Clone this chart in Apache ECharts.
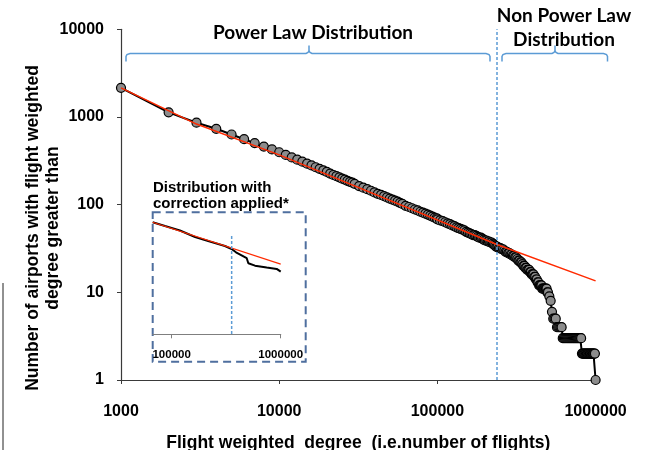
<!DOCTYPE html>
<html>
<head>
<meta charset="utf-8">
<script src="https://cdn.jsdelivr.net/npm/echarts/dist/echarts.min.js"></script>
<style>
  html, body { margin: 0; padding: 0; background: #fff; }
  #chart { width: 650px; height: 450px; }
</style>
</head>
<body>
<div id="chart"></div>
<script>
// Cumulative distribution: airports whose flight-weighted degree exceeds each threshold
const degree = [
  1000, 2000, 3000, 4000, 5000, 6000, 7000, 8000, 9000, 10000,
  11000, 12000, 13000, 14000, 15000, 16000, 17000, 18000, 19000, 20000,
  21000, 22000, 23000, 24000, 25000, 26000, 27000, 28000, 29000, 30000,
  32000, 34000, 36000, 38000, 40000, 42000, 44000, 46000, 48000, 50000,
  52000, 54000, 56000, 58000, 60000,
  63000, 66000, 69000, 72000, 75000, 78000, 81000, 84000, 87000, 90000,
  93000, 96000, 99000,
  100000, 104000, 108000, 112000, 116000, 120000, 124000, 128000, 132000, 136000,
  140000, 144000, 148000, 152000, 156000, 160000, 164000, 168000, 172000, 176000,
  180000, 184000, 188000, 192000, 196000, 200000, 204000, 208000, 212000, 216000,
  220000, 224000, 228000, 232000, 236000, 240000,
  245000, 250000, 255000, 260000, 265000, 270000, 275000, 280000, 285000, 290000,
  295000, 300000, 305000, 310000, 315000, 320000, 325000, 330000, 335000, 340000,
  345000, 350000, 355000, 360000, 365000, 370000, 375000, 380000, 385000, 390000,
  395000, 400000, 405000, 410000, 415000, 420000, 425000, 430000, 435000, 440000,
  445000, 450000, 455000, 460000, 465000, 470000, 475000, 480000, 485000, 490000,
  495000, 500000,
  510000, 520000, 530000, 540000, 550000, 560000, 570000, 580000, 590000, 600000,
  610000, 620000, 630000, 640000, 650000, 660000, 670000, 680000, 690000, 700000,
  710000, 720000, 730000, 740000, 750000, 760000, 770000, 780000, 790000, 800000,
  810000, 820000, 830000, 840000, 850000, 860000, 870000, 880000, 890000, 900000,
  910000, 920000, 930000, 940000, 950000, 960000, 970000, 980000, 990000, 1000000
];
const airports = [
  2150, 1130, 860, 733, 631, 558, 504, 460, 426, 396,
  369, 346, 326, 309, 293, 280, 267, 256, 246, 236,
  226, 218, 211, 205, 198, 193, 187, 182, 178, 173,
  163, 156, 150, 144, 138, 133, 129, 125, 121, 117,
  114, 111, 108, 105, 102,
  97, 94, 91, 88, 86, 83, 81, 79, 77, 75,
  73, 71, 70,
  68, 66, 65, 63, 61, 60, 58, 57, 55, 54,
  53, 52, 51, 49, 48, 47, 46, 45, 45, 44,
  43, 42, 42, 41, 40, 39, 39, 38, 38, 37,
  37, 36, 35, 34, 33, 33,
  32, 32, 31, 31, 30, 29, 29, 28, 28, 27,
  27, 26, 26, 25, 25, 24, 23, 23, 22, 22,
  21, 20, 20, 19, 19, 18, 18, 18, 17, 17,
  16, 16, 16, 15, 15, 14, 14, 13, 13, 12,
  12, 12, 12, 11, 11, 11, 11, 11, 11, 11,
  10, 10,
  9, 8, 6, 5, 5, 5, 4, 4, 4, 4,
  4, 3, 3, 3, 3, 3, 3, 3, 3, 3,
  3, 3, 3, 3, 3, 3, 3, 3, 3, 3,
  3, 2, 2, 2, 2, 2, 2, 2, 2, 2,
  2, 2, 2, 2, 2, 2, 2, 2, 2, 1
];

// Power-law fit
const fitDegree = [1000, 3000, 10000, 237700, 1000000];
const fitAirports = [2150, 830, 370, 35.1, 13.5];
const cutoffDegree = 237700;

// Inset: distribution with correction applied
const insetDegree = [67000, 86800, 119000, 164000, 224000, 308000, 355000, 389000, 488000, 505000, 581000, 744000, 919000, 1000000];
const insetAirports = [98, 82, 66.5, 48.9, 39.5, 31.9, 27.7, 23.7, 17.9, 14.1, 12.6, 11.5, 10.8, 9.5];
const insetFitDegree = [67000, 1000000];
const insetFitAirports = [98, 13.5];
const insetCutoff = 355000;
const insetCutoffSpan = [51, 0.49];

// Tick labels
const xTicks = [1000, 10000, 100000, 1000000];
const yTicks = [1, 10, 100, 1000, 10000];
const insetTicks = [100000, 1000000];

const zip = (a, b) => a.map((v, i) => [v, b[i]]);
const LABEL_FONT = '"Liberation Sans", Arial, sans-serif';
const TITLE_FONT = 'Lato, "Open Sans", sans-serif';
const BRACE = '#5b9bd5';

// horizontal curly brace opening downwards with a small peak at "tip"
function brace(left, right, tip, y) {
  return [
    [left, y + 8], [left, y + 3], [left + 1, y + 1], [left + 4, y],
    [tip - 3, y], [tip - 1, y - 1], [tip, y - 3], [tip, y - 8],
    [tip, y - 3], [tip + 1, y - 1], [tip + 3, y],
    [right - 4, y], [right - 1, y + 1], [right, y + 3], [right, y + 8]
  ];
}

const chart = echarts.init(document.getElementById('chart'), null, { renderer: 'canvas' });

chart.setOption({
  animation: false,
  backgroundColor: '#fff',
  grid: [
    { left: 121, top: 29.3, width: 474.6, height: 350.7, outerBoundsMode: 'none', containLabel: false },
    { left: 152.7, top: 213, width: 128, height: 121.3, outerBoundsMode: 'none', containLabel: false }
  ],
  xAxis: [
    {
      type: 'log', gridIndex: 0, min: 1000, max: 1000000, logBase: 10,
      splitLine: { show: false },
      axisLine: { lineStyle: { color: '#3a3a3a', width: 1.2 } },
      axisTick: { length: 4, customValues: xTicks, lineStyle: { color: '#3a3a3a' } },
      axisLabel: {
        customValues: xTicks, margin: 24, color: '#000',
        fontFamily: LABEL_FONT, fontWeight: 'bold', fontSize: 16,
        formatter: v => String(Math.round(v))
      },
      name: 'Flight weighted  degree  (i.e.number of flights)',
      nameLocation: 'middle', nameGap: 54,
      nameTextStyle: { fontFamily: LABEL_FONT, fontWeight: 'bold', fontSize: 17.5, color: '#000' }
    },
    {
      type: 'log', gridIndex: 1, min: 67000, max: 1000000, logBase: 10,
      splitLine: { show: false },
      axisLine: { lineStyle: { color: '#7f7f7f', width: 1.2 } },
      axisTick: { length: 4, customValues: insetTicks, lineStyle: { color: '#7f7f7f' } },
      axisLabel: {
        customValues: insetTicks, margin: 15, color: '#000',
        fontFamily: LABEL_FONT, fontWeight: 'bold', fontSize: 11.5,
        formatter: v => String(Math.round(v))
      }
    }
  ],
  yAxis: [
    {
      type: 'log', gridIndex: 0, min: 1, max: 10000, logBase: 10,
      splitLine: { show: false },
      axisLine: { show: true, lineStyle: { color: '#3a3a3a', width: 1.2 } },
      axisTick: { show: true, length: 4, customValues: yTicks, lineStyle: { color: '#3a3a3a' } },
      axisLabel: {
        customValues: yTicks, margin: 17, color: '#000',
        fontFamily: LABEL_FONT, fontWeight: 'bold', fontSize: 16,
        formatter: v => String(Math.round(v))
      }
    },
    {
      type: 'log', gridIndex: 1, min: 0.49, max: 152, logBase: 10, show: false
    }
  ],
  series: [
    {
      type: 'line', xAxisIndex: 0, yAxisIndex: 0, z: 2,
      data: zip(degree, airports),
      showAllSymbol: true, symbol: 'circle', symbolSize: 9,
      itemStyle: { color: '#8c8c8c', borderColor: '#000', borderWidth: 1.2 },
      lineStyle: { color: '#000', width: 2 }
    },
    {
      type: 'line', xAxisIndex: 0, yAxisIndex: 0, z: 3,
      data: zip(fitDegree, fitAirports),
      symbol: 'none', lineStyle: { color: '#ff2a00', width: 1.5 }
    },
    {
      type: 'line', xAxisIndex: 0, yAxisIndex: 0, z: 4, data: [],
      markLine: {
        silent: true, symbol: 'none', label: { show: false },
        lineStyle: { color: BRACE, width: 1.5, type: [3, 2] },
        data: [{ xAxis: cutoffDegree }]
      }
    },
    {
      type: 'line', xAxisIndex: 1, yAxisIndex: 1, z: 2,
      data: zip(insetDegree, insetAirports),
      symbol: 'none', lineStyle: { color: '#000', width: 2 }
    },
    {
      type: 'line', xAxisIndex: 1, yAxisIndex: 1, z: 3,
      data: zip(insetFitDegree, insetFitAirports),
      symbol: 'none', lineStyle: { color: '#ff2a00', width: 1.2 }
    },
    {
      type: 'line', xAxisIndex: 1, yAxisIndex: 1, z: 4,
      data: insetCutoffSpan.map(v => [insetCutoff, v]),
      symbol: 'none', lineStyle: { color: BRACE, width: 1.5, type: [3, 2] }
    }
  ],
  graphic: [
    // y axis title
    {
      type: 'text', x: 43, y: 228, rotation: Math.PI / 2,
      style: {
        text: 'Number of airports with flight weighted\ndegree greater than',
        fill: '#000', font: 'bold 17.5px ' + LABEL_FONT,
        align: 'center', verticalAlign: 'middle', lineHeight: 20
      }
    },
    // range braces
    { type: 'polyline', shape: { points: brace(126, 490, 309, 53.5) }, style: { fill: null, stroke: BRACE, lineWidth: 1.5 } },
    { type: 'polyline', shape: { points: brace(502, 607.5, 555, 53.5) }, style: { fill: null, stroke: BRACE, lineWidth: 1.5 } },
    {
      type: 'text', x: 313, y: 33,
      style: { text: 'Power Law Distribution', fill: '#000', font: 'bold 19px ' + TITLE_FONT, align: 'center', verticalAlign: 'middle' }
    },
    {
      type: 'text', x: 564, y: 28,
      style: { text: 'Non Power Law\nDistribution', fill: '#000', font: 'bold 19px ' + TITLE_FONT, align: 'center', verticalAlign: 'middle', lineHeight: 24 }
    },
    // inset frame and title
    {
      type: 'rect', shape: { x: 152.7, y: 212.3, width: 153, height: 149.4 },
      style: { fill: null, stroke: '#4f6f9f', lineWidth: 2, lineDash: [8, 5] }
    },
    {
      type: 'text', x: 153, y: 196,
      style: { text: 'Distribution with\ncorrection applied*', fill: '#000', font: 'bold 15px ' + LABEL_FONT, align: 'left', verticalAlign: 'middle', lineHeight: 16 }
    },
    // left margin rule
    { type: 'line', shape: { x1: 3, y1: 283, x2: 3, y2: 450 }, style: { stroke: '#222', lineWidth: 1 } }
  ]
});
</script>
</body>
</html>
